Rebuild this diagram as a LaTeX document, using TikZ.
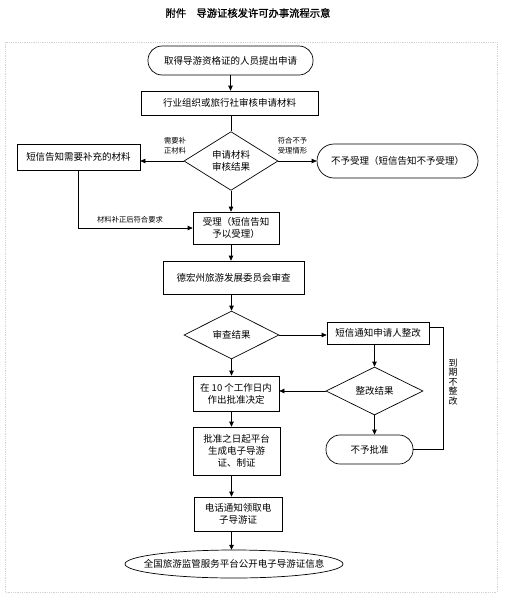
\documentclass[tikz,border=0pt]{standalone}
\usepackage{fontspec}
\setmainfont{Noto Sans CJK SC}
\newfontfamily\titlefont{Noto Sans CJK SC}[FakeBold=1.2]
\usetikzlibrary{shapes.geometric,arrows.meta}
\begin{document}
\begin{tikzpicture}[x=1pt,y=-1pt,
  every node/.style={font=\fontsize{9.5}{12}\selectfont, inner sep=0pt, align=center},
  boxnode/.style={draw, rectangle, line width=0.7pt},
  termnode/.style={draw, rectangle, rounded corners=#1, line width=0.7pt},
  decnode/.style={draw, diamond, line width=0.7pt},
  lbl/.style={font=\fontsize{7.3}{10}\selectfont},
  arr/.style={-{Triangle[length=5pt,width=4.5pt]}, line width=0.7pt},
  ln/.style={line width=0.7pt}]
\useasboundingbox (0,0) rectangle (505,600);
\node[font=\titlefont\fontsize{10.3}{12}\selectfont] (title) at (248,13) {附件\hspace{1em}导游证核发许可办事流程示意};
\draw[gray!35, densely dotted, line width=0.8pt] (5,42) rectangle (497,592);

\node[termnode=14pt, minimum width=165, minimum height=29] (s) at (230.5,60.5) {取得导游资格证的人员提出申请};
\node[boxnode, minimum width=177, minimum height=24] (b2) at (229.5,103) {行业组织或旅行社审核申请材料};
\node[decnode, minimum width=94, minimum height=48] (d1) at (231,161) {申请材料\\审核结果};
\node[boxnode, minimum width=123, minimum height=26] (L) at (78.5,157) {短信告知需要补充的材料};
\node[termnode=17pt, minimum width=161, minimum height=34] (R) at (397.5,161) {不予受理（短信告知不予受理）};
\node[boxnode, minimum width=86, minimum height=32] (A) at (236,228) {受理（短信告知\\予以受理）};
\node[boxnode, minimum width=141, minimum height=33] (D) at (233.5,277.5) {德宏州旅游发展委员会审查};
\node[decnode, minimum width=95, minimum height=48] (d2) at (231.5,335) {审查结果};
\node[boxnode, minimum width=102, minimum height=22] (N) at (378,333) {短信通知申请人整改};
\node[decnode, minimum width=97, minimum height=48] (d3) at (374.5,391) {整改结果};
\node[boxnode, minimum width=86, minimum height=35] (W) at (236,393.5) {在 10 个工作日内\\作出批准决定};
\node[termnode=14pt, minimum width=87, minimum height=29] (NP) at (369.5,449.5) {不予批准};
\node[boxnode, minimum width=87, minimum height=48] (P) at (236.5,451) {批准之日起平台\\生成电子导游\\证、制证};
\node[boxnode, minimum width=88, minimum height=34] (T) at (238,514) {电话通知领取电\\子导游证};
\node[minimum width=218, minimum height=28] (E) at (234,564) {全国旅游监管服务平台公开电子导游证信息};
\draw[ln] (E.center) ellipse [x radius=109, y radius=14];

\node[lbl] (l1) at (175,146) {需要补\\正材料};
\node[lbl] (l2) at (292.5,146) {符合不予\\受理情形};
\node[lbl] (l3) at (130,220) {材料补正后符合要求};
\node[font=\fontsize{9}{9.4}\selectfont] (l4) at (453,382) {到\\期\\不\\整\\改};

\draw[arr] (s.south) -- (s.south |- b2.north);
\draw[ln] (d1.north |- b2.south) -- (d1.north);
\draw[arr] (d1.west) -- (d1.west -| L.east);
\draw[arr] (d1.east) -- (d1.east -| R.west);
\draw[arr] (d1.south) -- (d1.south |- A.north);
\draw[arr] (L.south) |- (A.west);
\draw[arr] (d1.south |- A.south) -- (d1.south |- D.north);
\draw[arr] (d2.north |- D.south) -- (d2.north);
\draw[arr] (d2.east) -- (d2.east -| N.west);
\draw[arr] (d3.north |- N.south) -- (d3.north);
\draw[arr] (d2.south) -- (d2.south |- W.north);
\draw[arr] (d3.west) -- (d3.west -| W.east);
\draw[arr] (d3.south) -- (d3.south |- NP.north);
\coordinate (k) at (443,0);
\draw[ln] ([yshift=6pt]N.east) -| (k |- NP.east) -- (NP.east);
\draw[arr] (d2.south |- W.south) -- (d2.south |- P.north);
\draw[arr] (d2.south |- P.south) -- (d2.south |- T.north);
\draw[arr] (d2.south |- T.south) -- (d2.south |- E.north);
\end{tikzpicture}
\end{document}
